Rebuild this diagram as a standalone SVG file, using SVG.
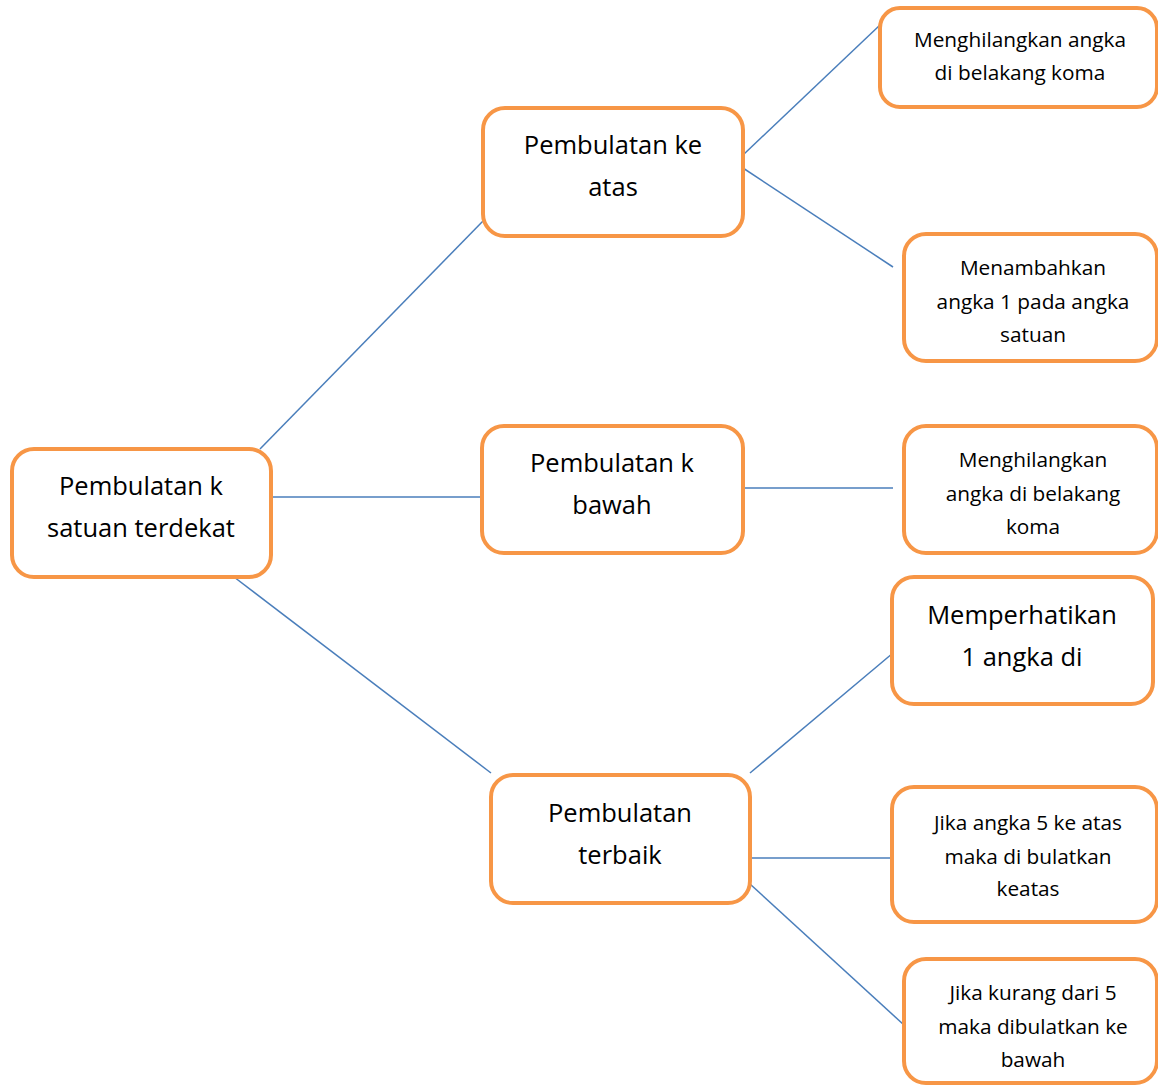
<svg xmlns="http://www.w3.org/2000/svg" width="1158" height="1085" viewBox="0 0 1158 1085">
<style>
.box{fill:#fff;stroke:#F79646;stroke-width:4}
.t{font-family:"Open Sans","Liberation Sans",Arial,sans-serif;fill:#000;text-anchor:middle}
.big{font-size:25.5px}
.sm{font-size:20.8px}
.c line{stroke:#4A7EBB;stroke-width:1.5}
</style>
<rect width="1158" height="1085" fill="#fff"/>
<g class="c" id="connectors">
<line x1="260" y1="449" x2="483" y2="221"/>
<line x1="271" y1="497" x2="491" y2="497"/>
<line x1="234" y1="577" x2="491" y2="773"/>
<line x1="743" y1="155" x2="880" y2="25"/>
<line x1="743" y1="168" x2="893" y2="267"/>
<line x1="743" y1="488" x2="893" y2="488"/>
<line x1="750" y1="773" x2="893" y2="653"/>
<line x1="750" y1="858" x2="893" y2="858"/>
<line x1="750" y1="884" x2="904" y2="1025"/>
</g>
<g id="root">
<rect class="box" x="12" y="449" width="259" height="128" rx="22"/>
<text class="t big" x="141" y="495">Pembulatan k</text>
<text class="t big" x="141" y="537">satuan terdekat</text>
</g>
<g id="atas">
<rect class="box" x="483" y="108" width="260" height="128" rx="22"/>
<text class="t big" x="613" y="154">Pembulatan ke</text>
<text class="t big" x="613" y="196">atas</text>
</g>
<g id="bawah">
<rect class="box" x="482" y="426" width="261" height="127" rx="22"/>
<text class="t big" x="612" y="472">Pembulatan k</text>
<text class="t big" x="612" y="514">bawah</text>
</g>
<g id="terbaik">
<rect class="box" x="491" y="775" width="259" height="128" rx="22"/>
<text class="t big" x="620" y="822">Pembulatan</text>
<text class="t big" x="620" y="864">terbaik</text>
</g>
<g id="n1">
<rect class="box" x="880" y="8" width="277" height="99" rx="20"/>
<text class="t sm" x="1020" y="47">Menghilangkan angka</text>
<text class="t sm" x="1020" y="80">di belakang koma</text>
</g>
<g id="n2">
<rect class="box" x="904" y="234" width="253" height="127" rx="22"/>
<text class="t sm" x="1033" y="275">Menambahkan</text>
<text class="t sm" x="1033" y="309">angka 1 pada angka</text>
<text class="t sm" x="1033" y="342">satuan</text>
</g>
<g id="n3">
<rect class="box" x="904" y="426" width="253" height="127" rx="22"/>
<text class="t sm" x="1033" y="467">Menghilangkan</text>
<text class="t sm" x="1033" y="501">angka di belakang</text>
<text class="t sm" x="1033" y="534">koma</text>
</g>
<g id="n4">
<rect class="box" x="892" y="577" width="261" height="127" rx="22"/>
<text class="t big" x="1022" y="624">Memperhatikan</text>
<text class="t big" x="1022" y="666">1 angka di</text>
</g>
<g id="n5">
<rect class="box" x="892" y="787" width="265" height="135" rx="22"/>
<text class="t sm" x="1028" y="830">Jika angka 5 ke atas</text>
<text class="t sm" x="1028" y="864">maka di bulatkan</text>
<text class="t sm" x="1028" y="896">keatas</text>
</g>
<g id="n6">
<rect class="box" x="904" y="959" width="253" height="124" rx="22"/>
<text class="t sm" x="1033" y="1000">Jika kurang dari 5</text>
<text class="t sm" x="1033" y="1034">maka dibulatkan ke</text>
<text class="t sm" x="1033" y="1067">bawah</text>
</g>
</svg>
